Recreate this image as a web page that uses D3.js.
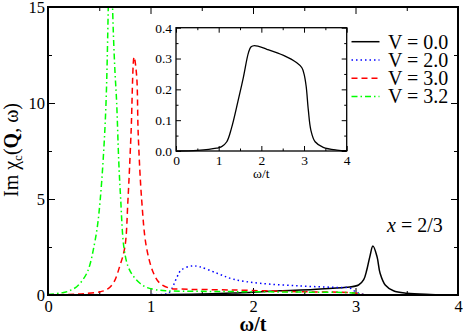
<!DOCTYPE html>
<html>
<head>
<meta charset="utf-8">
<script src="https://cdn.jsdelivr.net/npm/d3@7"></script>
<style>
  body { margin: 0; background: #fff; }
  svg { display: block; }
  svg text { font-family: "Liberation Serif", "Times New Roman", serif; fill: #000; }
  .tick line { stroke: #000; }
</style>
</head>
<body>
<svg id="chart" width="463" height="331"></svg>
<script>
// legend labels and line styles per series
var legendLabels = ["V = 0.0", "V = 2.0", "V = 3.0", "V = 3.2"];
var seriesColors = ["#000000", "#0000ff", "#ff0000", "#00ff00"];
var seriesDash = [null, "1.5,3", "6,4", "6,3,1.5,3"];

// [omega/t, Im chi]
var v00 = [[0,0],[0.5,0],[1.0,0.005],[1.2,0.02],[1.5,0.05],[1.8,0.1],[2.0,0.14],[2.26,0.22],[2.59,0.29],[2.91,0.4],[3.03,0.52],[3.08,0.8],[3.11,1.3],[3.14,2.0],[3.17,2.55],[3.21,2.0],[3.24,1.13],[3.29,0.52],[3.37,0.22],[3.5,0.09],[3.73,0.03],[4.0,0.01]];
var v20 = [[0,0],[0.6,0.01],[1.0,0.02],[1.15,0.05],[1.19,0.17],[1.26,0.95],[1.30,1.3],[1.40,1.51],[1.48,1.47],[1.65,1.13],[1.81,0.82],[2.07,0.61],[2.46,0.47],[2.78,0.4],[2.95,0.35],[3.0,0.17],[3.08,0.03],[3.2,0],[4.0,0]];
var v30 = [[0,0],[0.2,0.03],[0.35,0.07],[0.51,0.17],[0.58,0.3],[0.64,0.64],[0.70,1.5],[0.75,2.5],[0.78,4.95],[0.81,8.4],[0.84,12.4],[0.865,11.4],[0.88,8.4],[0.914,4.95],[0.96,2.5],[1.03,1.13],[1.09,0.62],[1.19,0.35],[1.29,0.31],[1.8,0.26],[2.46,0.17],[2.95,0.12],[3.05,0.05],[3.1,0],[4.0,0]];
var v32 = [[0,0.02],[0.12,0.1],[0.2,0.2],[0.28,0.43],[0.34,0.8],[0.38,1.15],[0.41,1.6],[0.44,2.3],[0.48,3.5],[0.51,5],[0.54,7.2],[0.566,10],[0.588,15],[0.6,19],[0.61,20],[0.62,19],[0.63,15],[0.65,12],[0.67,10],[0.69,7],[0.709,5],[0.74,2.5],[0.78,1.5],[0.83,1.0],[0.9,0.6],[0.96,0.4],[1.05,0.28],[1.15,0.22],[1.5,0.19],[2.0,0.17],[2.5,0.15],[2.9,0.13],[3.0,0.1],[3.05,0.04],[3.1,0.01],[3.3,0],[4.0,0]];
var series = [v00, v20, v30, v32];

// inset curve
var inset = [[0,0],[0.5,0.002],[0.95,0.009],[1.07,0.014],[1.19,0.03],[1.30,0.074],[1.45,0.16],[1.58,0.24],[1.70,0.32],[1.76,0.338],[1.84,0.342],[2.13,0.33],[2.52,0.31],[2.83,0.286],[2.95,0.27],[3.0,0.25],[3.05,0.21],[3.1,0.134],[3.16,0.068],[3.26,0.03],[3.45,0.012],[3.77,0.003],[4.0,0.001]];

var xTicks = [0, 1, 2, 3, 4];
var xMinor = [0.5, 1.5, 2.5, 3.5];
var yTicks = [0, 5, 10, 15];
var yMinor = [2.5, 7.5, 12.5];
var insetYTicks = [0, 0.1, 0.2, 0.3, 0.4];
var insetYMinor = [0.05, 0.15, 0.25, 0.35];

var svg = d3.select("#chart");

var x = d3.scaleLinear().domain([0, 4]).range([48, 458]);
var y = d3.scaleLinear().domain([0, 15]).range([295, 7]);

svg.append("clipPath").attr("id", "clip")
  .append("rect").attr("x", 48).attr("y", 7).attr("width", 410).attr("height", 288);

function tickAxis(g, axis, len, labels, pad, size, fmt) {
  var a = axis.tickSize(-len).tickPadding(pad).tickFormat(labels ? (fmt || d3.format("d")) : "");
  g.call(a);
  g.attr("font-family", null).attr("font-size", null);
  g.select(".domain").remove();
  g.selectAll("text").style("font-size", size + "px");
}

// main axes, ticks inward on all sides
tickAxis(svg.append("g").attr("transform", "translate(0,295)"), d3.axisBottom(x).tickValues(xTicks), 7, true, 5, 16.5);
tickAxis(svg.append("g").attr("transform", "translate(0,295)"), d3.axisBottom(x).tickValues(xMinor), 4, false, 0, 0);
tickAxis(svg.append("g").attr("transform", "translate(0,7)"), d3.axisTop(x).tickValues(xTicks), 7, false, 0, 0);
tickAxis(svg.append("g").attr("transform", "translate(0,7)"), d3.axisTop(x).tickValues(xMinor), 4, false, 0, 0);
tickAxis(svg.append("g").attr("transform", "translate(48,0)"), d3.axisLeft(y).tickValues(yTicks), 7, true, 3, 16.5);
tickAxis(svg.append("g").attr("transform", "translate(48,0)"), d3.axisLeft(y).tickValues(yMinor), 4, false, 0, 0);
tickAxis(svg.append("g").attr("transform", "translate(458,0)"), d3.axisRight(y).tickValues(yTicks), 7, false, 0, 0);
tickAxis(svg.append("g").attr("transform", "translate(458,0)"), d3.axisRight(y).tickValues(yMinor), 4, false, 0, 0);

var line = d3.line()
  .x(function(d){ return x(d[0]); })
  .y(function(d){ return y(d[1]); })
  .curve(d3.curveCatmullRom.alpha(0.5));

var curves = svg.append("g").attr("clip-path", "url(#clip)");
series.forEach(function(s, i){
  curves.append("path")
    .datum(s)
    .attr("d", line)
    .attr("fill", "none")
    .attr("stroke", seriesColors[i])
    .attr("stroke-width", 1.5)
    .attr("stroke-dasharray", seriesDash[i]);
});

svg.append("rect").attr("x", 48).attr("y", 7).attr("width", 410).attr("height", 288)
  .attr("fill", "none").attr("stroke", "#000").attr("stroke-width", 2);

// axis titles
svg.append("text").attr("x", 253).attr("y", 331).attr("text-anchor", "middle")
  .style("font-size", "20px").style("font-weight", "bold").text("ω/t");

var ylab = svg.append("text").attr("transform", "translate(17.5,150) rotate(-90)")
  .attr("text-anchor", "middle").style("font-size", "20px");
ylab.append("tspan").text("Im χ");
ylab.append("tspan").attr("dy", 4).style("font-size", "13px").text("c");
ylab.append("tspan").attr("dy", -4).text("(");
ylab.append("tspan").style("font-weight", "bold").text("Q");
ylab.append("tspan").text(", ω)");

var note = svg.append("text").attr("x", 387).attr("y", 232).style("font-size", "20px");
note.append("tspan").style("font-style", "italic").text("x");
note.append("tspan").text(" = 2/3");

// legend
var legend = svg.append("g");
legendLabels.forEach(function(lbl, i){
  var ly = 41.7 + i * 18.3;
  legend.append("line").attr("x1", 351.5).attr("x2", 379.5).attr("y1", ly).attr("y2", ly)
    .attr("stroke", seriesColors[i]).attr("stroke-width", 1.5)
    .attr("stroke-dasharray", seriesDash[i]);
  legend.append("text").attr("x", 388).attr("y", ly + 6.8)
    .style("font-size", "20px").text(lbl);
});

// inset
var ix = d3.scaleLinear().domain([0, 4]).range([176, 346.7]);
var iy = d3.scaleLinear().domain([0, 0.4]).range([151, 27.7]);

svg.append("rect").attr("x", 176).attr("y", 27.7).attr("width", 170.7).attr("height", 123.3).attr("fill", "#fff");

tickAxis(svg.append("g").attr("transform", "translate(0,151)"), d3.axisBottom(ix).tickValues(xTicks), 5, true, 4, 13.5);
tickAxis(svg.append("g").attr("transform", "translate(0,151)"), d3.axisBottom(ix).tickValues(xMinor), 2.5, false, 0, 0);
tickAxis(svg.append("g").attr("transform", "translate(0,27.7)"), d3.axisTop(ix).tickValues(xTicks), 5, false, 0, 0);
tickAxis(svg.append("g").attr("transform", "translate(0,27.7)"), d3.axisTop(ix).tickValues(xMinor), 2.5, false, 0, 0);
tickAxis(svg.append("g").attr("transform", "translate(176,0)"), d3.axisLeft(iy).tickValues(insetYTicks), 5, true, 4, 13.5, d3.format(".1f"));
tickAxis(svg.append("g").attr("transform", "translate(176,0)"), d3.axisLeft(iy).tickValues(insetYMinor), 2.5, false, 0, 0);
tickAxis(svg.append("g").attr("transform", "translate(346.7,0)"), d3.axisRight(iy).tickValues(insetYTicks), 5, false, 0, 0);
tickAxis(svg.append("g").attr("transform", "translate(346.7,0)"), d3.axisRight(iy).tickValues(insetYMinor), 2.5, false, 0, 0);

var iline = d3.line()
  .x(function(d){ return ix(d[0]); })
  .y(function(d){ return iy(d[1]); })
  .curve(d3.curveCatmullRom.alpha(0.5));

svg.append("path").datum(inset).attr("d", iline)
  .attr("fill", "none").attr("stroke", "#000").attr("stroke-width", 1.3);

svg.append("rect").attr("x", 176).attr("y", 27.7).attr("width", 170.7).attr("height", 123.3)
  .attr("fill", "none").attr("stroke", "#000").attr("stroke-width", 1.3);

svg.append("text").attr("x", 261.3).attr("y", 178).attr("text-anchor", "middle")
  .style("font-size", "13.5px").text("ω/t");
</script>
</body>
</html>
